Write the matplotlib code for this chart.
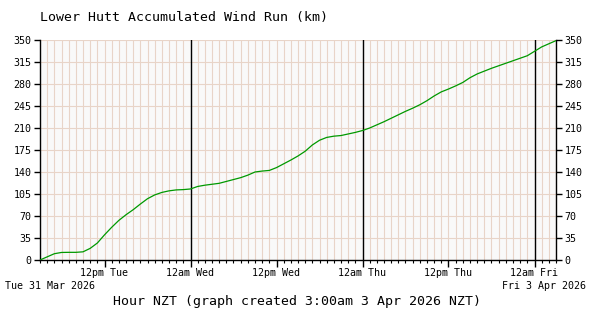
import matplotlib
matplotlib.use("Agg")
import matplotlib.pyplot as plt
import numpy as np

# --- Dane: godziny od 3:00am Tue 31 Mar 2026, skumulowany wiatr (km) ---
hours = list(range(0, 73))
wind_run = [
    0, 5, 10, 12, 12.2, 12.2, 13, 18.5, 27, 40,
    52, 63, 72, 80, 89, 97.5, 103.5, 107.5, 110, 111.5,
    112, 113, 117, 119, 120.5, 122, 125, 128, 131, 135,
    140, 141.5, 142.5, 147, 153, 159, 165.5, 173, 183, 190.5,
    195, 197, 198, 200.5, 203, 206, 210, 215, 220, 225.5,
    231, 236.5, 241.5, 247, 253.5, 261, 267.5, 272, 277, 282.5,
    290, 296, 300.5, 305, 309, 313, 317, 321, 325, 332,
    339, 344, 349,
]
major_hours = [9, 21, 33, 45, 57, 69]
major_labels = ["12pm Tue", "12am Wed", "12pm Wed", "12am Thu", "12pm Thu", "12am Fri"]
midnights = [21, 45, 69]
y_ticks = list(range(0, 351, 35))

MONO = "DejaVu Sans Mono"
GRID = "#e8d4c8"

fig = plt.figure(figsize=(6, 3.2), dpi=100)
ax = fig.add_axes([40 / 600, 60 / 320, 516 / 600, 220 / 320])
ax.set_facecolor("#f9f9f9")

# siatka co godzine
for h in hours:
    ax.axvline(h, color=GRID, linewidth=0.8, zorder=1)
for y in y_ticks:
    ax.axhline(y, color=GRID, linewidth=0.8, zorder=1)
for h in midnights:
    ax.axvline(h, color="black", linewidth=1.0, zorder=2)

ax.plot(hours, wind_run, color="#009900", linewidth=0.9, zorder=3)

ax.set_xlim(0, 72)
ax.set_ylim(0, 350)

ax.set_xticks(major_hours)
ax.set_xticklabels(major_labels, fontfamily=MONO, fontsize=7.2)
ax.set_xticks(hours, minor=True)
ax.tick_params(axis="x", which="major", length=5, width=1, direction="out", pad=1)
ax.tick_params(axis="x", which="minor", length=2.5, width=0.8, direction="out")

ax.set_yticks(y_ticks)
ax.set_yticklabels([str(v) for v in y_ticks], fontfamily=MONO, fontsize=7.2)
ax.tick_params(axis="y", which="both", length=4, width=1, direction="out",
               left=True, right=True, labelleft=True, labelright=True, pad=2)

ax.spines["top"].set_visible(False)
for s in ["left", "right", "bottom"]:
    ax.spines[s].set_color("black")
    ax.spines[s].set_linewidth(1.0)

fig.text(40 / 600, 1 - 18 / 320, "Lower Hutt Accumulated Wind Run (km)",
         fontfamily=MONO, fontsize=9.5, ha="left", va="center")
fig.text(5 / 600, 1 - 286 / 320, "Tue 31 Mar 2026",
         fontfamily=MONO, fontsize=7.2, ha="left", va="center")
fig.text(586 / 600, 1 - 286 / 320, "Fri 3 Apr 2026",
         fontfamily=MONO, fontsize=7.2, ha="right", va="center")
fig.text(297 / 600, 1 - 302 / 320, "Hour NZT (graph created 3:00am 3 Apr 2026 NZT)",
         fontfamily=MONO, fontsize=9.5, ha="center", va="center")

fig.savefig("out.png", dpi=100, facecolor="white")
